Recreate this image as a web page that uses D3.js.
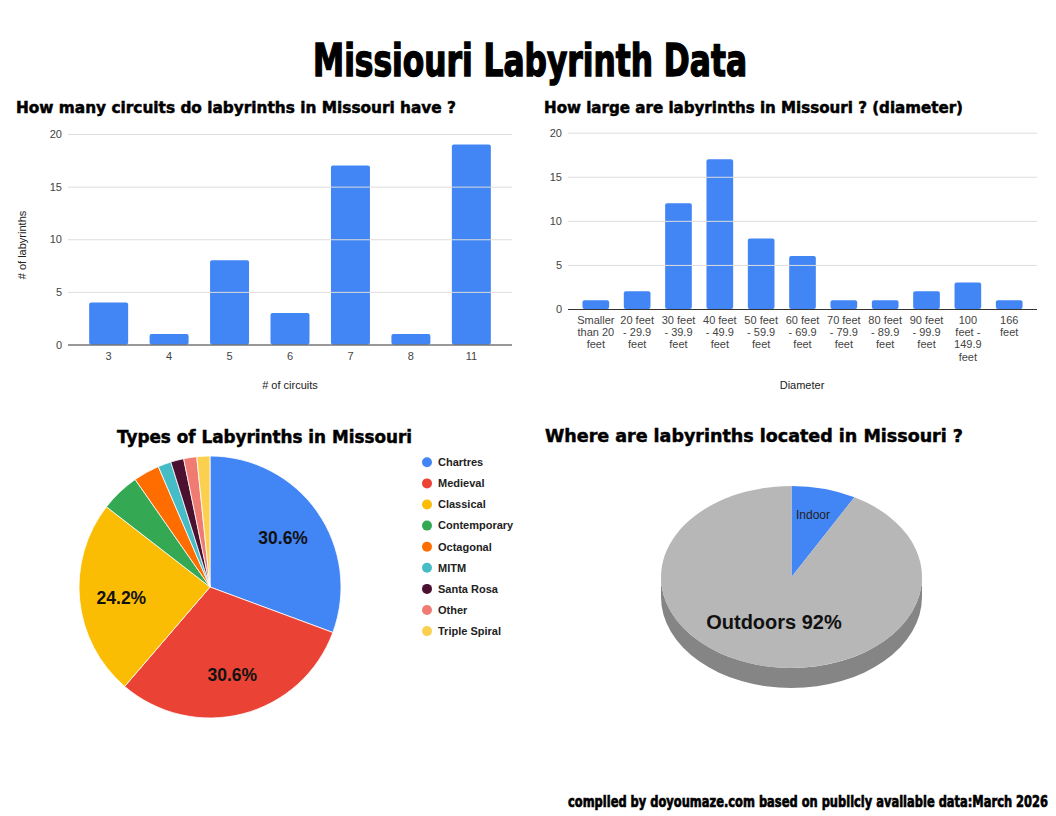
<!DOCTYPE html>
<html>
<head>
<meta charset="utf-8">
<script src="https://cdn.jsdelivr.net/npm/d3@7"></script>
<style>
  body { margin: 0; background: #fff; }
  svg { display: block; font-family: "Liberation Sans", Arial, sans-serif; }
  .heavy { font-family: "DejaVu Sans", "Liberation Sans", sans-serif; font-weight: bold; fill: #000; stroke: #000; stroke-width: 0.5; }
  .impact { font-family: "Liberation Sans Narrow", "DejaVu Sans Condensed", "Liberation Sans", sans-serif; font-weight: bold; fill: #000; stroke: #000; }
  .tick text { fill: #444; font-size: 11px; }
  .axis-title { fill: #222; font-size: 11px; }
</style>
</head>
<body>
<svg id="page" width="1056" height="816"></svg>
<script>
// circuits chart
const circuitCats = ["3", "4", "5", "6", "7", "8", "11"];
const circuitCounts = [4, 1, 8, 3, 17, 1, 19];

// diameter chart
const diameterCats = [
  "Smaller|than 20|feet", "20 feet|- 29.9|feet", "30 feet|- 39.9|feet",
  "40 feet|- 49.9|feet", "50 feet|- 59.9|feet", "60 feet|- 69.9|feet",
  "70 feet|- 79.9|feet", "80 feet|- 89.9|feet", "90 feet|- 99.9|feet",
  "100|feet -|149.9|feet", "166|feet"
];
const diameterCounts = [1, 2, 12, 17, 8, 6, 1, 1, 2, 3, 1];

const yTicks = [0, 5, 10, 15, 20];

// types pie
const typeNames = ["Chartres", "Medieval", "Classical", "Contemporary", "Octagonal", "MITM", "Santa Rosa", "Other", "Triple Spiral"];
const typeCounts = [19, 19, 15, 3, 2, 1, 1, 1, 1];
const typeColors = ["#4285f4", "#ea4335", "#fbbc04", "#34a853", "#ff6d01", "#46bdc6", "#4c1130", "#f07b72", "#fcd04f"];

// location pie
const locationNames = ["Indoor", "Outdoors"];
const locationShares = [8, 92];
const locationColors = ["#4285f4", "#b7b7b7"];

const svg = d3.select("#page");

// headline + footer
svg.append("text")
  .attr("class", "impact")
  .attr("x", 313).attr("y", 76)
  .attr("font-size", 44)
  .attr("stroke-width", 1.4)
  .attr("textLength", 434).attr("lengthAdjust", "spacingAndGlyphs")
  .text("Missiouri Labyrinth Data");

// small font stretched upward so it keeps its natural width
svg.append("text")
  .attr("class", "impact")
  .attr("transform", "translate(568,807) scale(1,1.35)")
  .attr("font-size", 12)
  .attr("stroke-width", 0.5)
  .attr("textLength", 480).attr("lengthAdjust", "spacingAndGlyphs")
  .text("compiled by doyoumaze.com based on publicly available data:March 2026");

function heading(x, y, size, width, label) {
  svg.append("text")
    .attr("class", "heavy")
    .attr("x", x).attr("y", y)
    .attr("font-size", size)
    .attr("textLength", width).attr("lengthAdjust", "spacingAndGlyphs")
    .text(label);
}

heading(16, 113, 15, 440, "How many circuits do labyrinths in Missouri have ?");
heading(544, 113, 15, 419, "How large are labyrinths in Missouri ? (diameter)");
heading(117, 443, 17.5, 295, "Types of Labyrinths in Missouri");
heading(545, 442, 18, 418, "Where are labyrinths located in Missouri ?");

function drawBars(cats, counts, left, right, top, bottom, pad) {
  let x = d3.scaleBand().domain(cats).range([left, right]).paddingInner(0.355).paddingOuter(0.35);
  let y = d3.scaleLinear().domain([0, 20]).range([bottom, top]);

  let yAxis = svg.append("g")
    .attr("transform", "translate(" + left + ",0)")
    .call(d3.axisLeft(y).tickValues(yTicks).tickSize(-(right - left)).tickPadding(6));
  yAxis.select(".domain").remove();
  yAxis.selectAll(".tick line")
    .attr("stroke", function (d) { return d === 0 ? "#333" : "#ddd"; })
    .attr("stroke-width", function (d) { return d === 0 ? 1.2 : 1; });

  // bars sit under the baseline line, so insert them before the axis
  svg.insert("g", function () { return yAxis.node(); })
    .selectAll("rect")
    .data(counts)
    .enter()
    .append("rect")
    .attr("x", function (d, i) { return x(cats[i]); })
    .attr("width", x.bandwidth())
    .attr("y", function (d) { return y(d); })
    .attr("height", function (d) { return bottom - y(d); })
    .attr("rx", 2)
    .attr("fill", "#4285f4");

  let xAxis = svg.append("g")
    .attr("transform", "translate(0," + bottom + ")")
    .call(d3.axisBottom(x).tickSize(0).tickPadding(pad));
  xAxis.select(".domain").remove();
  xAxis.selectAll(".tick line").remove();
  return xAxis;
}

drawBars(circuitCats, circuitCounts, 68, 512, 134, 344.5, 8);

svg.append("text").attr("class", "axis-title")
  .attr("x", 290).attr("y", 389).attr("text-anchor", "middle")
  .text("# of circuits");
svg.append("text").attr("class", "axis-title")
  .attr("transform", "translate(26,245) rotate(-90)").attr("text-anchor", "middle")
  .text("# of labyrinths");

let diaAxis = drawBars(diameterCats, diameterCounts, 568, 1037, 132.7, 309, 7);
diaAxis.selectAll(".tick text").each(function (d) {
  let t = d3.select(this);
  t.text(null);
  d.split("|").forEach(function (line, i) {
    t.append("tspan")
      .attr("x", 0)
      .attr("dy", i === 0 ? "0.71em" : "12.3")
      .text(line);
  });
});
diaAxis.selectAll(".tick text").attr("dy", null);

svg.append("text").attr("class", "axis-title")
  .attr("x", 802).attr("y", 389).attr("text-anchor", "middle")
  .text("Diameter");

// ---- types pie
const pcx = 210, pcy = 587, pr = 131;
let typeTotal = d3.sum(typeCounts);
let typeArcs = d3.pie().sort(null).value(function (d) { return d; })(typeCounts);
let arc = d3.arc().innerRadius(0).outerRadius(pr);
let labelArc = d3.arc().innerRadius(pr * 0.68).outerRadius(pr * 0.68);

let pieG = svg.append("g").attr("transform", "translate(" + pcx + "," + pcy + ")");
pieG.selectAll("path")
  .data(typeArcs)
  .enter()
  .append("path")
  .attr("d", arc)
  .attr("fill", function (d, i) { return typeColors[i]; })
  .attr("stroke", "#fff")
  .attr("stroke-width", 0.8);

pieG.selectAll("text.pct")
  .data(typeArcs.filter(function (d) { return d.value / typeTotal > 0.1; }))
  .enter()
  .append("text")
  .attr("class", "pct")
  .attr("transform", function (d) { return "translate(" + labelArc.centroid(d) + ")"; })
  .attr("text-anchor", "middle")
  .attr("dy", "0.45em")
  .attr("font-size", 17.5)
  .attr("font-weight", "bold")
  .attr("fill", "#111")
  .text(function (d) { return (d.value / typeTotal * 100).toFixed(1) + "%"; });

let legend = svg.append("g").selectAll("g")
  .data(typeNames)
  .enter()
  .append("g")
  .attr("transform", function (d, i) { return "translate(427," + (462.3 + i * 21.1) + ")"; });
legend.append("circle").attr("r", 5).attr("fill", function (d, i) { return typeColors[i]; });
legend.append("text")
  .attr("x", 11).attr("dy", "0.35em")
  .attr("font-size", 11).attr("font-weight", "bold").attr("fill", "#222")
  .text(function (d) { return d; });

// ---- location pie, drawn as a tilted disc
const lcx = 791.5, lcy = 577, lrx = 130.5, lry = 91, depth = 20;
let locArcs = d3.pie().sort(null).value(function (d) { return d; })(locationShares);

function ept(a, dy) {
  return [lcx + lrx * Math.sin(a), lcy - lry * Math.cos(a) + (dy || 0)];
}

// side wall: only the front half (3 o'clock round to 9 o'clock) shows
let sideG = svg.append("g");
locArcs.forEach(function (d, i) {
  let a0 = Math.max(d.startAngle, Math.PI / 2);
  let a1 = Math.min(d.endAngle, Math.PI * 1.5);
  if (a0 >= a1) return;
  let am = (a0 + a1) / 2;
  let p0 = ept(a0), pm = ept(am), p1 = ept(a1);
  let q0 = ept(a0, depth), qm = ept(am, depth), q1 = ept(a1, depth);
  let path = "M" + p0 +
    "A" + lrx + "," + lry + " 0 0 1 " + pm +
    "A" + lrx + "," + lry + " 0 0 1 " + p1 +
    "L" + q1 +
    "A" + lrx + "," + lry + " 0 0 0 " + qm +
    "A" + lrx + "," + lry + " 0 0 0 " + q0 + "Z";
  sideG.append("path")
    .attr("d", path)
    .attr("fill", d3.color(locationColors[i]).darker(0.9));
});

let topG = svg.append("g")
  .attr("transform", "translate(" + lcx + "," + lcy + ") scale(1," + (lry / lrx) + ")");
topG.selectAll("path")
  .data(locArcs)
  .enter()
  .append("path")
  .attr("d", d3.arc().innerRadius(0).outerRadius(lrx))
  .attr("fill", function (d, i) { return locationColors[i]; });

svg.append("text")
  .attr("x", 796).attr("y", 519)
  .attr("font-size", 12).attr("fill", "#222")
  .text(locationNames[0]);
svg.append("text")
  .attr("x", 774).attr("y", 629)
  .attr("text-anchor", "middle")
  .attr("font-size", 20).attr("font-weight", "bold").attr("fill", "#111")
  .text(locationNames[1] + " " + locationShares[1] + "%");
</script>
</body>
</html>
